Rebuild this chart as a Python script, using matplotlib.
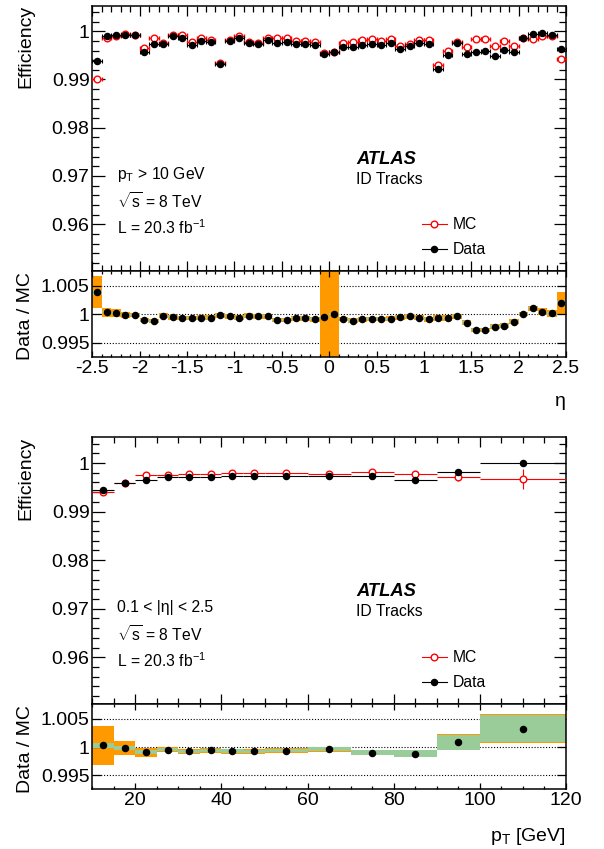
import numpy as np
import matplotlib
matplotlib.use("Agg")
import matplotlib.pyplot as plt
from matplotlib.ticker import MultipleLocator, FuncFormatter
from matplotlib.lines import Line2D

plt.rcParams['font.family'] = ['Liberation Sans', 'DejaVu Sans']
plt.rcParams['mathtext.fontset'] = 'custom'
plt.rcParams['mathtext.rm'] = 'Liberation Sans'
plt.rcParams['mathtext.it'] = 'Liberation Sans'
plt.rcParams['mathtext.bf'] = 'Liberation Sans:bold'
plt.rcParams['mathtext.default'] = 'regular'
plt.rcParams['axes.unicode_minus'] = False

# ---------------- data: efficiency vs eta ----------------
eta_edges = np.round(np.linspace(-2.5, 2.5, 51), 2)
eff_eta_mc = [0.99006, 0.99862, 0.99910, 0.99938, 0.99924, 0.99662, 0.99869, 0.99752, 0.99924, 0.99924,
              0.99772, 0.99855, 0.99828, 0.99344, 0.99828, 0.99910, 0.99772, 0.99752, 0.99855, 0.99855,
              0.99862, 0.99800, 0.99800, 0.99786, 0.99558, 0.99572, 0.99758, 0.99772, 0.99814, 0.99834,
              0.99800, 0.99841, 0.99703, 0.99738, 0.99828, 0.99828, 0.99300, 0.99593, 0.99772, 0.99676,
              0.99848, 0.99848, 0.99703, 0.99807, 0.99689, 0.99855, 0.99841, 0.99910, 0.99896, 0.99427]
eff_eta_data = [0.99386, 0.99896, 0.99931, 0.99931, 0.99924, 0.99565, 0.99745, 0.99745, 0.99896, 0.99869,
                0.99717, 0.99807, 0.99779, 0.99331, 0.99807, 0.99855, 0.99765, 0.99738, 0.99828, 0.99758,
                0.99772, 0.99738, 0.99738, 0.99717, 0.99538, 0.99572, 0.99676, 0.99669, 0.99724, 0.99745,
                0.99717, 0.99758, 0.99641, 0.99696, 0.99758, 0.99738, 0.99227, 0.99517, 0.99758, 0.99524,
                0.99572, 0.99586, 0.99482, 0.99607, 0.99565, 0.99855, 0.99945, 0.99966, 0.99917, 0.99634]
ratio_eta = [1.00384, 1.00035, 1.00023, 0.99988, 0.99988, 0.99901, 0.99884, 0.99977, 0.99948, 0.99936,
             0.99936, 0.99942, 0.99942, 0.99983, 0.99965, 0.99942, 0.99977, 0.99965, 0.99965, 0.99901,
             0.99901, 0.99930, 0.99930, 0.99913, 0.99959, 1.00000, 0.99919, 0.99890, 0.99913, 0.99919,
             0.99919, 0.99924, 0.99948, 0.99965, 0.99942, 0.99913, 0.99942, 0.99936, 0.99965, 0.99855,
             0.99727, 0.99727, 0.99785, 0.99802, 0.99872, 1.00006, 1.00105, 1.00047, 1.00017, 1.00203]
ratio_eta_tot = [0.0028, 0.0008, 0.0007, 0.0006, 0.0004, 0.0004, 0.0004, 0.0004, 0.0004, 0.0004,
                 0.0004, 0.0004, 0.0004, 0.0004, 0.0004, 0.0004, 0.0004, 0.0004, 0.0004, 0.0004,
                 0.0004, 0.0004, 0.0004, 0.0004, 0.0100, 0.0100, 0.0004, 0.0004, 0.0004, 0.0004,
                 0.0004, 0.0004, 0.0004, 0.0004, 0.0004, 0.0004, 0.0005, 0.0005, 0.0004, 0.0004,
                 0.0004, 0.0004, 0.0004, 0.0004, 0.0004, 0.0004, 0.0005, 0.0006, 0.0006, 0.0019]
ratio_eta_stat = [0.0004, 0.0002, 0.0002, 0.0002, 0.0002, 0.0002, 0.0002, 0.0002, 0.0002, 0.0002,
                  0.0002, 0.0002, 0.0002, 0.0002, 0.0002, 0.0002, 0.0002, 0.0002, 0.0002, 0.0002,
                  0.0002, 0.0002, 0.0002, 0.0002, 0.0002, 0.0002, 0.0002, 0.0002, 0.0002, 0.0002,
                  0.0002, 0.0002, 0.0002, 0.0002, 0.0002, 0.0002, 0.0002, 0.0002, 0.0002, 0.0002,
                  0.0002, 0.0002, 0.0002, 0.0002, 0.0002, 0.0002, 0.0002, 0.0002, 0.0002, 0.0003]

# ---------------- data: efficiency vs pT ----------------
pt_edges = [10, 15, 20, 25, 30, 35, 40, 45, 50, 60, 70, 80, 90, 100, 120]
eff_pt_mc = [0.99406, 0.99586, 0.99744, 0.99758, 0.99778, 0.99778, 0.99785, 0.99799, 0.99785, 0.99765,
             0.99820, 0.99772, 0.99716, 0.99668]
eff_pt_mc_err = [0.0001, 0.0001, 0.0001, 0.0001, 0.0001, 0.0001, 0.0001, 0.0001, 0.0001, 0.0001,
                 0.0001, 0.0002, 0.0008, 0.0021]
eff_pt_data = [0.99447, 0.99586, 0.99661, 0.99703, 0.99703, 0.99716, 0.99723, 0.99730, 0.99723, 0.99723,
               0.99723, 0.99661, 0.99820, 1.00006]
eff_pt_data_err = [0.0003, 0.0001, 0.0001, 0.0001, 0.0001, 0.0001, 0.0001, 0.0001, 0.0001, 0.0001,
                   0.0001, 0.0001, 0.0005, 0.0001]
ratio_pt = [1.00030, 0.99983, 0.99912, 0.99954, 0.99924, 0.99942, 0.99930, 0.99930, 0.99936, 0.99959,
            0.99901, 0.99883, 1.00089, 1.00330]
ratio_pt_tot = [0.0034, 0.0013, 0.0008, 0.00045, 0.00045, 0.00045, 0.00045, 0.00045, 0.00045, 0.00036,
                0.00042, 0.00066, 0.0014, 0.0025]
ratio_pt_stat = [0.0005, 0.0004, 0.0003, 0.0003, 0.0003, 0.0003, 0.0003, 0.00028, 0.0003, 0.00035,
                 0.0004, 0.00065, 0.00132, 0.00247]

ORANGE = '#ff9900'
GREEN = '#99cc99'
FS_TICK = 14
FS_TXT = 11.3

fig = plt.figure(figsize=(6.04, 8.49), dpi=100)
L, W = 0.1528, 0.7843
ax1 = fig.add_axes([L, 0.6808, W, 0.3125])
ax2 = fig.add_axes([L, 0.5795, W, 0.1013])
ax3 = fig.add_axes([L, 0.1704, W, 0.3145])
ax4 = fig.add_axes([L, 0.0703, W, 0.1001])

fmt = FuncFormatter(lambda v, p: '%g' % round(v, 4))


def style(ax, xmaj, xmin, ymaj, ymin, xlen, ylen, xlab=True):
    for s in ax.spines.values():
        s.set_linewidth(1.1)
    ax.xaxis.set_major_locator(MultipleLocator(xmaj))
    ax.xaxis.set_minor_locator(MultipleLocator(xmin))
    ax.yaxis.set_major_locator(MultipleLocator(ymaj))
    if ymin:
        ax.yaxis.set_minor_locator(MultipleLocator(ymin))
    else:
        ax.yaxis.set_minor_locator(plt.NullLocator())
    ax.tick_params(which='both', direction='in', top=True, right=True, labelsize=FS_TICK, pad=2, width=0.9)
    ax.tick_params(axis='x', which='major', length=xlen[0])
    ax.tick_params(axis='x', which='minor', length=xlen[1])
    ax.tick_params(axis='y', which='major', length=ylen[0])
    ax.tick_params(axis='y', which='minor', length=ylen[1])
    ax.yaxis.set_major_formatter(fmt)
    ax.xaxis.set_major_formatter(fmt)
    if not xlab:
        ax.tick_params(axis='x', labelbottom=False)


def main_panel(ax, edges, mc, data, mc_err, data_err, cap):
    edges = np.asarray(edges, float)
    c = 0.5 * (edges[1:] + edges[:-1])
    hw = 0.5 * (edges[1:] - edges[:-1])
    ax.errorbar(c, mc, xerr=hw, yerr=mc_err, fmt='o', color='red', mfc='white', mec='red',
                ms=4.8, mew=1.0, elinewidth=0.8, capsize=cap, capthick=0.8, zorder=3)
    ax.errorbar(c, data, xerr=hw, yerr=data_err, fmt='o', color='black', mfc='black', mec='black',
                ms=4.4, elinewidth=0.8, capsize=cap, capthick=0.8, zorder=4)
    ax.set_ylim(0.9503, 1.0053)


def ratio_panel(ax, edges, r, tot, stat):
    edges = np.asarray(edges, float)
    c = 0.5 * (edges[1:] + edges[:-1])
    w = edges[1:] - edges[:-1]
    r = np.asarray(r); tot = np.asarray(tot); stat = np.asarray(stat)
    for yv in (0.995, 1.0, 1.005):
        ax.axhline(yv, color='black', lw=0.8, ls=(0, (1, 1.6)), zorder=0.5)
    ax.bar(c, 2 * tot, bottom=r - tot, width=w, color=ORANGE, lw=0, zorder=1)
    ax.bar(c, 2 * stat, bottom=r - stat, width=w, color=GREEN, lw=0, zorder=2)
    ax.plot(c, r, 'o', color='black', ms=4.4, zorder=4)
    ax.set_ylim(0.99252, 1.0076)


# ---- eta panels ----
main_panel(ax1, eta_edges, eff_eta_mc, eff_eta_data, None, None, 1.5)
ax1.set_xlim(-2.5, 2.5)
style(ax1, 0.5, 0.1, 0.01, 0.002, (7, 4), (9, 5), xlab=False)
ratio_panel(ax2, eta_edges, ratio_eta, ratio_eta_tot, ratio_eta_stat)
ax2.set_xlim(-2.5, 2.5)
style(ax2, 0.5, 0.1, 0.005, None, (4.5, 2.5), (6.5, 3.5))
ax2.text(1.0, -0.52, 'η', transform=ax2.transAxes, ha='right', va='center', fontsize=FS_TICK)

# ---- pT panels ----
main_panel(ax3, pt_edges, eff_pt_mc, eff_pt_data, eff_pt_mc_err, eff_pt_data_err, 0)
ax3.set_xlim(10, 120)
style(ax3, 20, 5, 0.01, 0.002, (7, 4), (9, 5), xlab=False)
ratio_panel(ax4, pt_edges, ratio_pt, ratio_pt_tot, ratio_pt_stat)
ax4.set_xlim(10, 120)
style(ax4, 20, 5, 0.005, None, (4.5, 2.5), (6.5, 3.5))
ax4.text(1.0, -0.55, r'$p_{T}$ [GeV]', transform=ax4.transAxes, ha='right', va='center', fontsize=FS_TICK)

# ---- y titles ----
for ytop, label in [(5, 'Efficiency'), (272, 'Data / MC'), (437, 'Efficiency'), (705, 'Data / MC')]:
    fig.text(25.5 / 604, (849 - ytop) / 849, label, rotation=90, ha='center', va='top', fontsize=FS_TICK)

# ---- annotations ----
for ax, first in [(ax1, r'$p_{T}$ > 10 GeV'), (ax3, '0.1 < |η| < 2.5')]:
    ax.text(0.0515, 0.362, first, transform=ax.transAxes, ha='left', va='center', fontsize=FS_TXT)
    ax.text(0.0515, 0.261, r'$\sqrt{s}$ = 8 TeV', transform=ax.transAxes, ha='left', va='center', fontsize=FS_TXT)
    ax.text(0.0515, 0.162, r'L = 20.3 fb$^{-1}$', transform=ax.transAxes, ha='left', va='center', fontsize=FS_TXT)
    ax.text(0.558, 0.421, 'ATLAS', transform=ax.transAxes, ha='left', va='center', fontsize=13.2,
            fontweight='bold', fontstyle='italic')
    ax.text(0.556, 0.346, 'ID Tracks', transform=ax.transAxes, ha='left', va='center', fontsize=FS_TXT)
    handles = [Line2D([], [], color='red', lw=0.8, marker='o', ms=4.8, mfc='white', mec='red', mew=1.0),
               Line2D([], [], color='black', lw=0.8, marker='o', ms=4.4, mfc='black')]
    ax.legend(handles, ['MC', 'Data'], loc='upper left', bbox_to_anchor=(0.6954, 0.2035),
              frameon=False, fontsize=11.3, handlelength=1.6, handletextpad=0.35,
              labelspacing=0.66, borderpad=0, borderaxespad=0)

fig.savefig('out.png', dpi=100)
